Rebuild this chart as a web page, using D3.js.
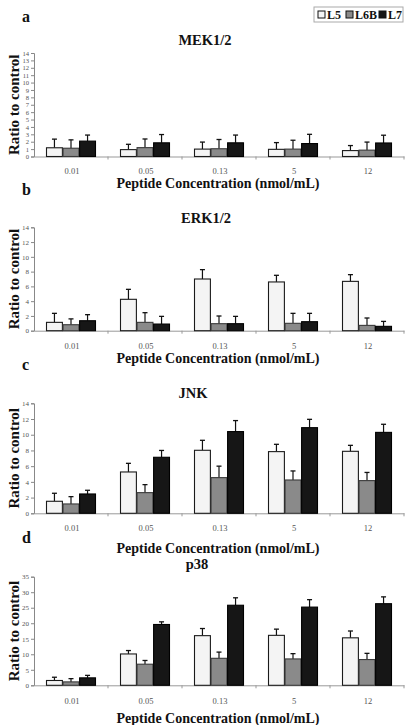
<!DOCTYPE html>
<html><head><meta charset="utf-8">
<script src="https://cdn.jsdelivr.net/npm/d3@7"></script>
<style>html,body{margin:0;padding:0;background:#fff;}svg{display:block;} text{font-family:"Liberation Serif","DejaVu Serif",serif;}</style>
</head><body>
<script>
// ---- data ----
const categories = ["0.01", "0.05", "0.13", "5", "12"];
const series = ["L5", "L6B", "L7"];

const mekL5 = [1.18, 0.93, 1.0, 0.97, 0.8];
const mekL5Err = [1.17, 0.72, 0.95, 0.91, 0.68];
const mekL6B = [1.12, 1.2, 1.05, 1.0, 0.86];
const mekL6BErr = [1.13, 1.17, 1.25, 1.2, 1.09];
const mekL7 = [2.08, 1.85, 1.85, 1.75, 1.83];
const mekL7Err = [0.82, 1.12, 1.05, 1.25, 1.05];

const erkL5 = [1.13, 4.25, 7.0, 6.6, 6.68];
const erkL5Err = [1.22, 1.35, 1.27, 0.9, 0.91];
const erkL6B = [0.81, 1.13, 0.95, 1.0, 0.72];
const erkL6BErr = [0.79, 1.31, 1.04, 1.35, 1.0];
const erkL7 = [1.35, 0.9, 0.95, 1.22, 0.59];
const erkL7Err = [0.82, 1.04, 0.99, 1.13, 0.67];

const jnkL5 = [1.53, 5.26, 8.02, 7.85, 7.89];
const jnkL5Err = [1.02, 1.1, 1.27, 0.93, 0.76];
const jnkL6B = [1.19, 2.63, 4.54, 4.24, 4.16];
const jnkL6BErr = [0.93, 1.02, 1.46, 1.15, 1.04];
const jnkL7 = [2.46, 7.13, 10.4, 10.9, 10.3];
const jnkL7Err = [0.47, 0.87, 1.4, 1.06, 1.03];

const p38L5 = [1.55, 10.1, 16.0, 16.1, 15.3];
const p38L5Err = [1.05, 1.1, 2.3, 2.0, 2.2];
const p38L6B = [1.1, 6.8, 8.7, 8.5, 8.3];
const p38L6BErr = [1.05, 1.2, 2.0, 1.7, 2.0];
const p38L7 = [2.4, 19.6, 25.8, 25.2, 26.3];
const p38L7Err = [0.8, 0.85, 2.4, 2.4, 2.2];

const mekTicks = d3.range(0, 15, 1);
const erkTicks = [0, 2, 4, 6, 8, 10, 12, 14];
const jnkTicks = [0, 2, 4, 6, 8, 10, 12, 14];
const p38Ticks = [0, 5, 10, 15, 20, 25, 30, 35];

const xAxisTitle = "Peptide Concentration (nmol/mL)";
const yAxisTitle = "Ratio to control";

// ---- layout (not data) ----
const panels = [
  {letter: "a", title: "MEK1/2", vals: [mekL5, mekL6B, mekL7], errs: [mekL5Err, mekL6BErr, mekL7Err], ticks: mekTicks, ymax: 14,
   top: 53, bottom: 156.5, letterY: 22, titleY: 45, titleX: 205, xlabY: 174, axisTitleY: 188, tickFont: 6.6},
  {letter: "b", title: "ERK1/2", vals: [erkL5, erkL6B, erkL7], errs: [erkL5Err, erkL6BErr, erkL7Err], ticks: erkTicks, ymax: 14,
   top: 227.3, bottom: 330.7, letterY: 195, titleY: 223, titleX: 206, xlabY: 349, axisTitleY: 363, tickFont: 7},
  {letter: "c", title: "JNK", vals: [jnkL5, jnkL6B, jnkL7], errs: [jnkL5Err, jnkL6BErr, jnkL7Err], ticks: jnkTicks, ymax: 14,
   top: 403.3, bottom: 513.3, letterY: 370, titleY: 398, titleX: 193, xlabY: 531, axisTitleY: 553, tickFont: 7},
  {letter: "d", title: "p38", vals: [p38L5, p38L6B, p38L7], errs: [p38L5Err, p38L6BErr, p38L7Err], ticks: p38Ticks, ymax: 35,
   top: 576.7, bottom: 685.3, letterY: 543, titleY: 569, titleX: 197, xlabY: 704, axisTitleY: 723, tickFont: 7}
];

const W = 410, H = 725;
const left = 34, right = 404;
const serif = "Liberation Serif, DejaVu Serif, serif";
const fills = {L5: "#f4f4f4", L6B: "#8a8a8a", L7: "#161616"};
const strokes = {L5: "#1a1a1a", L6B: "#3a3a3a", L7: "#000"};

const svg = d3.select("body").append("svg").attr("width", W).attr("height", H);

const x0 = d3.scaleBand().domain(categories).range([left, right]).padding(0);
const groupW = 49;
const x1 = d3.scaleBand().domain(series).range([0, groupW]).paddingInner(0.04);

panels.forEach(p => {
  const g = svg.append("g");
  const y = d3.scaleLinear().domain([0, p.ymax]).range([p.bottom, p.top]);

  g.append("text").attr("x", 22).attr("y", p.letterY).text(p.letter)
    .style("font-family", serif).attr("font-weight", "bold").attr("font-size", 16).attr("fill", "#111");
  g.append("text").attr("x", p.titleX).attr("y", p.titleY).attr("text-anchor", "middle").text(p.title)
    .style("font-family", serif).attr("font-weight", "bold").attr("font-size", 14.5).attr("fill", "#111");

  const yAxis = d3.axisLeft(y).tickValues(p.ticks).tickSize(3).tickPadding(2).tickFormat(d3.format("d"));
  const ya = g.append("g").attr("transform", `translate(${left},0)`).call(yAxis);
  ya.attr("font-family", null);
  ya.select(".domain").attr("stroke", "#888");
  ya.selectAll(".tick line").attr("stroke", "#888");
  ya.selectAll(".tick text").style("font-family", serif).attr("font-size", p.tickFont).attr("fill", "#555");

  const xAxis = d3.axisBottom(x0).tickSize(0).tickFormat(() => "");
  const xa = g.append("g").attr("transform", `translate(0,${p.bottom})`).call(xAxis);
  xa.select(".domain").attr("stroke", "#999");
  g.selectAll(".btick").data(categories.slice(1).concat(["end"])).enter().append("line")
    .attr("x1", (d, i) => i < categories.length - 1 ? x0(d) : right)
    .attr("x2", (d, i) => i < categories.length - 1 ? x0(d) : right)
    .attr("y1", p.bottom).attr("y2", p.bottom + 3).attr("stroke", "#999");
  g.selectAll(".xl").data(categories).enter().append("text")
    .attr("x", d => x0(d) + x0.bandwidth() / 2 + 1).attr("y", p.xlabY).attr("text-anchor", "middle")
    .text(d => d).style("font-family", serif).attr("font-size", 8.5).attr("fill", "#555");

  series.forEach((s, si) => {
    const vals = p.vals[si], errs = p.errs[si];
    categories.forEach((c, ci) => {
      const bx = x0(c) + (x0.bandwidth() - groupW) / 2 + x1(s);
      const bw = x1.bandwidth();
      const cx = bx + bw / 2;
      const topV = vals[ci] + errs[ci];
      g.append("line").attr("x1", cx).attr("x2", cx).attr("y1", y(vals[ci])).attr("y2", y(topV))
        .attr("stroke", "#111").attr("stroke-width", 1.2);
      g.append("line").attr("x1", cx - 2.5).attr("x2", cx + 2.5).attr("y1", y(topV)).attr("y2", y(topV))
        .attr("stroke", "#111").attr("stroke-width", 1.3);
      g.append("rect").attr("x", bx).attr("y", y(vals[ci])).attr("width", bw)
        .attr("height", y(0) - y(vals[ci]))
        .attr("fill", fills[s]).attr("stroke", strokes[s]).attr("stroke-width", 1.1);
    });
  });

  g.append("text").attr("transform", `translate(19,${(p.top + p.bottom) / 2}) rotate(-90)`)
    .attr("text-anchor", "middle").text(yAxisTitle)
    .style("font-family", serif).attr("font-weight", "bold").attr("font-size", 15).attr("fill", "#111");
  g.append("text").attr("x", 218).attr("y", p.axisTitleY).attr("text-anchor", "middle").text(xAxisTitle)
    .style("font-family", serif).attr("font-weight", "bold").attr("font-size", 14).attr("fill", "#111");
});

const lg = svg.append("g");
lg.append("rect").attr("x", 314).attr("y", 7).attr("width", 89).attr("height", 15)
  .attr("fill", "#fff").attr("stroke", "#aaa").attr("stroke-width", 1);
const legX = [318, 346, 379];
series.forEach((s, i) => {
  lg.append("rect").attr("x", legX[i]).attr("y", 11).attr("width", 7).attr("height", 7)
    .attr("fill", fills[s]).attr("stroke", "#111").attr("stroke-width", 1);
  lg.append("text").attr("x", legX[i] + 9).attr("y", 19).text(s)
    .style("font-family", serif).attr("font-weight", "bold").attr("font-size", 12).attr("fill", "#111");
});
</script>
</body></html>
